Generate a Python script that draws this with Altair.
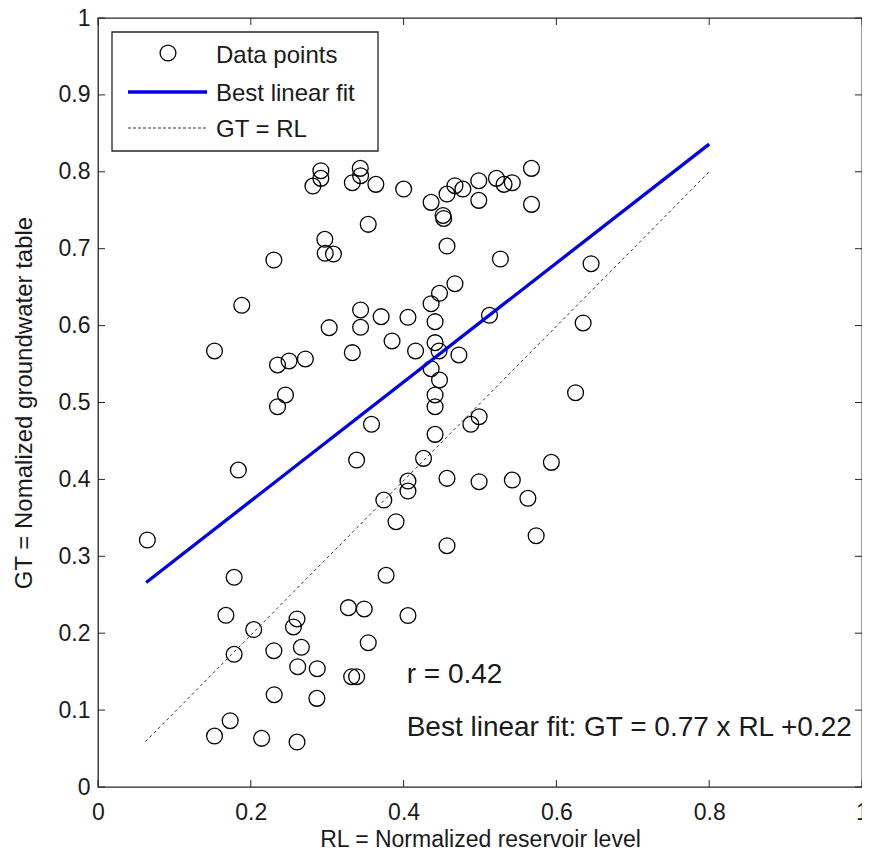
import altair as alt
import pandas as pd

# ---- data ----
rl = [0.2917, 0.2917, 0.2813, 0.3433, 0.3437, 0.3329, 0.3637, 0.3537, 0.2969, 0.2974,
      0.3082, 0.2302, 0.1882, 0.3437, 0.3706, 0.3026, 0.3437, 0.1525, 0.3329, 0.2350,
      0.2501, 0.2714, 0.4001, 0.5674, 0.4360, 0.4568, 0.4672, 0.4776, 0.4984, 0.5215,
      0.5315, 0.5423, 0.4984, 0.5674, 0.4516, 0.4525, 0.4568, 0.5267, 0.6454, 0.4672,
      0.4470, 0.4360, 0.4057, 0.4412, 0.5124, 0.6350, 0.3849, 0.4157, 0.4412, 0.4464,
      0.4724, 0.4360, 0.4470, 0.4412, 0.4412, 0.6251, 0.2454, 0.2350, 0.3580, 0.3385,
      0.1837, 0.3741, 0.0646, 0.1782, 0.3771, 0.1674, 0.3277, 0.3485, 0.2605, 0.2558,
      0.2038, 0.4988, 0.4880, 0.4412, 0.4261, 0.5934, 0.4057, 0.4057, 0.4568, 0.4988,
      0.5423, 0.5627, 0.3901, 0.4568, 0.5735, 0.4057, 0.1782, 0.2302, 0.2662, 0.3537,
      0.2614, 0.2870, 0.3320, 0.3385, 0.2306, 0.2865, 0.1730, 0.1525, 0.2142, 0.2605]
gt = [0.8014, 0.7915, 0.7815, 0.8045, 0.7949, 0.7858, 0.7837, 0.7317, 0.7122, 0.6940,
      0.6931, 0.6853, 0.6264, 0.6203, 0.6116, 0.5973, 0.5978, 0.5670, 0.5648, 0.5488,
      0.5540, 0.5566, 0.7776, 0.8045, 0.7603, 0.7711, 0.7819, 0.7776, 0.7884, 0.7915,
      0.7837, 0.7858, 0.7629, 0.7577, 0.7432, 0.7393, 0.7035, 0.6866, 0.6805, 0.6545,
      0.6420, 0.6285, 0.6108, 0.6051, 0.6134, 0.6034, 0.5800, 0.5670, 0.5778, 0.5670,
      0.5618, 0.5439, 0.5293, 0.5098, 0.4945, 0.5127, 0.5098, 0.4945, 0.4717, 0.4252,
      0.4122, 0.3732, 0.3212, 0.2727, 0.2753, 0.2233, 0.2332, 0.2315, 0.2185, 0.2081,
      0.2048, 0.4815, 0.4717, 0.4586, 0.4274, 0.4222, 0.3979, 0.3849, 0.4014, 0.3970,
      0.3992, 0.3754, 0.3450, 0.3138, 0.3268, 0.2230, 0.1726, 0.1772, 0.1817, 0.1876,
      0.1564, 0.1538, 0.1434, 0.1434, 0.1200, 0.1153, 0.0862, 0.0663, 0.0633, 0.0585]

fit_rl = [0.063, 0.80]
fit_gt = [0.266, 0.836]
eq_rl = [0.062, 0.80]
eq_gt = [0.059, 0.80]

x_ticks = [0, 0.2, 0.4, 0.6, 0.8, 1]
y_ticks = [0, 0.1, 0.2, 0.3, 0.4, 0.5, 0.6, 0.7, 0.8, 0.9, 1]

legend_labels = ["Data points", "Best linear fit", "GT = RL"]
notes = ["r = 0.42", "Best linear fit: GT = 0.77 x RL +0.22"]
note_rl = [0.404, 0.404]
note_gt = [0.135, 0.066]

x_title = "RL = Normalized reservoir level"
y_title = "GT = Nomalized groundwater table"

# ---- styling ----
W, H = 764, 769
FONT = "Liberation Sans"
TXT = "#1a1a1a"
BLUE = "#0000e6"

xs = alt.Scale(domain=[0, 1], nice=False, zero=False)
ys = alt.Scale(domain=[0, 1], nice=False, zero=False)

x_axis = alt.Axis(
    title=x_title, values=x_ticks, format="~g", ticks=False, domain=False, grid=False,
    labelFont=FONT, labelFontSize=23, labelColor=TXT, labelPadding=14,
    labelFlush=False, labelOverlap=False,
    titleFont=FONT, titleFontSize=23, titleFontWeight="normal", titleColor=TXT,
    titlePadding=4)
y_axis = alt.Axis(
    title=y_title, values=y_ticks, format="~g", ticks=False, domain=False, grid=False,
    labelFont=FONT, labelFontSize=23, labelColor=TXT, labelPadding=8,
    labelFlush=False, labelOverlap=False,
    titleFont=FONT, titleFontSize=24, titleFontWeight="normal", titleColor=TXT,
    titlePadding=22)


def X():
    return alt.X("RL:Q", scale=xs, axis=x_axis)


def Y():
    return alt.Y("GT:Q", scale=ys, axis=y_axis)


pts = pd.DataFrame({"RL": rl, "GT": gt})
points = alt.Chart(pts).mark_point(
    shape="circle", filled=False, size=250, color="black", strokeWidth=1.3, opacity=1
).encode(x=X(), y=Y())

fit_df = pd.DataFrame({"RL": fit_rl, "GT": fit_gt})
fit_line = alt.Chart(fit_df).mark_line(color=BLUE, strokeWidth=3.3).encode(x=X(), y=Y())

eq_df = pd.DataFrame({"RL": eq_rl, "GT": eq_gt})
eq_line = alt.Chart(eq_df).mark_line(color="#333333", strokeWidth=1, strokeDash=[3, 3]).encode(
    x=X(), y=Y())

# inward ticks (MATLAB style)
xt = pd.DataFrame({"RL": x_ticks})
yt = pd.DataFrame({"GT": y_ticks})
TICK = 7
tick_style = dict(color="#262626", strokeWidth=1)
bottom_ticks = alt.Chart(xt).mark_rule(**tick_style).encode(
    x=X(), y=alt.value(H - TICK), y2=alt.value(H))
top_ticks = alt.Chart(xt).mark_rule(**tick_style).encode(
    x=X(), y=alt.value(0), y2=alt.value(TICK))
left_ticks = alt.Chart(yt).mark_rule(**tick_style).encode(
    y=Y(), x=alt.value(0), x2=alt.value(TICK))
right_ticks = alt.Chart(yt).mark_rule(**tick_style).encode(
    y=Y(), x=alt.value(W - TICK), x2=alt.value(W))

# annotations
notes_df = pd.DataFrame({"RL": note_rl, "GT": note_gt, "txt": notes})
annot = alt.Chart(notes_df).mark_text(
    align="left", baseline="alphabetic", font=FONT, fontSize=28, color=TXT
).encode(x=X(), y=Y(), text="txt:N")

# legend box (drawn)
one = pd.DataFrame({"k": [0]})
leg_box = alt.Chart(one).mark_rect(fill="white", stroke="#262626", strokeWidth=1.3).encode(
    x=alt.value(14), x2=alt.value(280), y=alt.value(14), y2=alt.value(133))
leg_circle = alt.Chart(one).mark_point(
    shape="circle", filled=False, size=250, color="black", strokeWidth=1.3, opacity=1
).encode(x=alt.value(70), y=alt.value(35))
leg_fit = alt.Chart(one).mark_rule(color=BLUE, strokeWidth=3.3).encode(
    x=alt.value(30), x2=alt.value(109), y=alt.value(74))
leg_eq = alt.Chart(one).mark_rule(color="#333333", strokeWidth=1, strokeDash=[3, 2]).encode(
    x=alt.value(30), x2=alt.value(109), y=alt.value(110))
leg_text = []
for lab, yy in zip(legend_labels, [45, 83, 119]):
    leg_text.append(
        alt.Chart(pd.DataFrame({"t": [lab]})).mark_text(
            align="left", baseline="alphabetic", font=FONT, fontSize=24, color=TXT
        ).encode(x=alt.value(118), y=alt.value(yy), text="t:N")
    )

chart = alt.layer(
    points, eq_line, fit_line, bottom_ticks, top_ticks, left_ticks, right_ticks, annot,
    leg_box, leg_circle, leg_fit, leg_eq, *leg_text
).properties(
    width=W, height=H,
    autosize=alt.AutoSizeParams(type="none"),
    padding={"left": 90, "top": 10, "right": 0, "bottom": 63},
    background="white",
).configure_view(stroke="#262626", strokeWidth=1.3)

chart.save("out.html", embed_options={"renderer": "svg", "actions": False})
